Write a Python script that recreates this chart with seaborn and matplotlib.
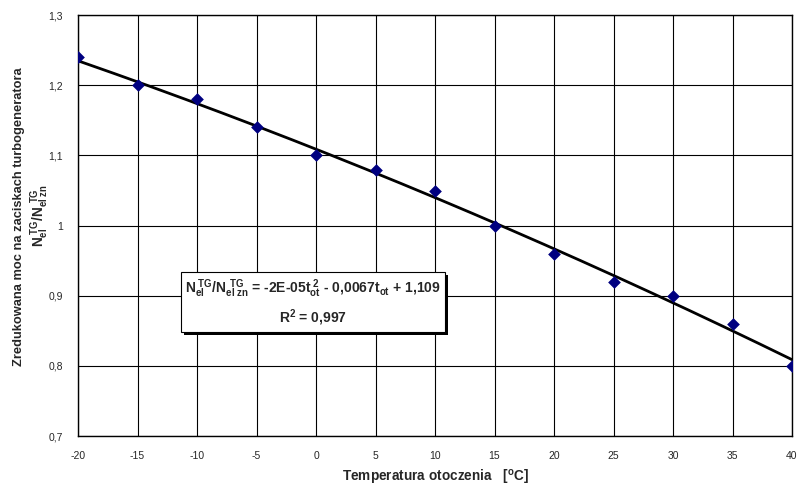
import numpy as np
import pandas as pd
import matplotlib
matplotlib.use("Agg")
import matplotlib.pyplot as plt
import matplotlib.patheffects as pe
from matplotlib.ticker import FuncFormatter, MultipleLocator
import seaborn as sns

# Ambient temperature [°C] and reduced generator terminal power
temperature = [-20, -15, -10, -5, 0, 5, 10, 15, 20, 25, 30, 35, 40]
power_ratio = [1.24, 1.20, 1.18, 1.14, 1.10, 1.08, 1.05, 1.00, 0.96, 0.92, 0.90, 0.86, 0.80]

# Quadratic trend coefficients (a*t^2 + b*t + c) and fit quality
trend_coef = [-2e-05, -0.0067, 1.109]
r_squared = 0.997

sns.set_style("white")
plt.rcParams["font.family"] = ["Liberation Sans", "DejaVu Sans"]
plt.rcParams["mathtext.fontset"] = "custom"
plt.rcParams["mathtext.rm"] = "Liberation Sans"
plt.rcParams["mathtext.bf"] = "Liberation Sans:bold"
plt.rcParams["mathtext.it"] = "Liberation Sans:italic"

df = pd.DataFrame({"t": temperature, "n": power_ratio})
t_line = np.linspace(min(temperature), max(temperature), 200)
trend = pd.DataFrame({"t": t_line, "n": np.polyval(trend_coef, t_line)})

fig = plt.figure(figsize=(8, 4.9), dpi=100)
ax = fig.add_axes([0.0975, 0.110, 0.8925, 0.859])

sns.lineplot(data=trend, x="t", y="n", ax=ax, color="black", linewidth=2, zorder=3)
sns.scatterplot(data=df, x="t", y="n", ax=ax, marker="D", s=42, color="#000080",
                edgecolor="#000080", linewidth=0, zorder=4)

ax.set_xlim(-20, 40)
ax.set_ylim(0.7, 1.3)
ax.xaxis.set_major_locator(MultipleLocator(5))
ax.yaxis.set_major_locator(MultipleLocator(0.1))

def comma_fmt(v, _):
    s = f"{v:.1f}".rstrip("0").rstrip(".")
    return s.replace(".", ",")

ax.xaxis.set_major_formatter(FuncFormatter(lambda v, _: f"{v:g}"))
ax.yaxis.set_major_formatter(FuncFormatter(comma_fmt))
ax.tick_params(axis="x", labelsize=7.5, length=0, pad=11)
ax.tick_params(axis="y", labelsize=7.5, length=0, pad=11)
ax.grid(True, color="black", linewidth=0.8)
for s in ax.spines.values():
    s.set_color("black")
    s.set_linewidth(1)

ax.set_xlabel("")
ax.set_ylabel("")
fig.text(0.544, 0.0245, r"Temperatura otoczenia   [$^{\mathbf{o}}$C]", fontsize=9.8,
         fontweight="bold", ha="center", va="center")
fig.text(0.024, 0.557, "Zredukowana moc na zaciskach turbogeneratora", fontsize=9.3,
         fontweight="bold", rotation=90, ha="center", va="center")
fig.text(0.050, 0.560, r"$\mathbf{N_{el}^{\,\,TG}/N_{el\ zn}^{\,\,\,TG}}$", fontsize=9.8,
         rotation=90, ha="center", va="center")

a, b, c = trend_coef
eq = (r"$\mathbf{N_{el}^{\,\,TG}/N_{el\ zn}^{\,\,\,TG}}$ = -2E-05$\mathbf{t_{ot}^{\,\,2}}$"
      f" - {abs(b):.4f}".replace(".", ",") + r"$\mathbf{t_{ot}}$" +
      f" + {c:.3f}".replace(".", ","))
label = eq + "\n" + r"R$^{\mathbf{2}}$" + f" = {r_squared:.3f}".replace(".", ",")
txt = ax.text(-0.25, 0.890, label, ha="center", va="center", fontsize=10,
              fontweight="bold", linespacing=1.45, zorder=6,
              bbox=dict(boxstyle="square,pad=0.3", facecolor="white",
                        edgecolor="black", linewidth=0.8))
txt.get_bbox_patch().set_path_effects([
    pe.SimplePatchShadow(offset=(2, -2), shadow_rgbFace="black", alpha=1.0),
    pe.Normal()])

fig.savefig("out.png", dpi=100)
